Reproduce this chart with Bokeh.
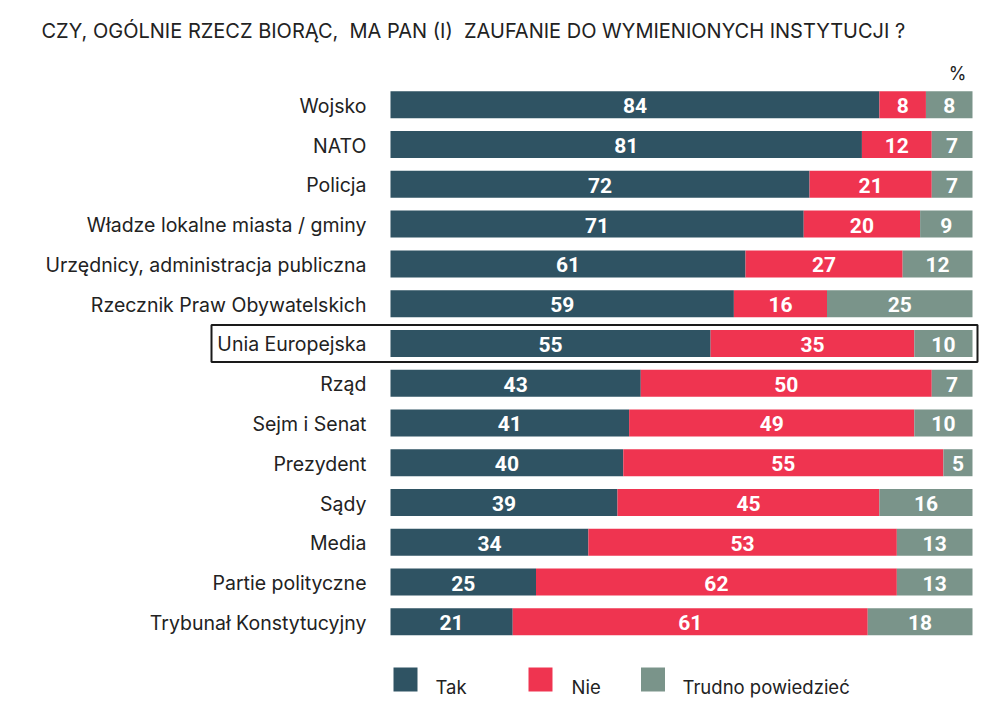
from bokeh.plotting import figure
from bokeh.models import Range1d, ColumnDataSource
from bokeh.core.properties import value
from bokeh.embed import file_html
from bokeh.resources import INLINE

# ---------------- data ----------------
categories = [
    "Wojsko", "NATO", "Policja", "Władze lokalne miasta / gminy",
    "Urzędnicy, administracja publiczna", "Rzecznik Praw Obywatelskich",
    "Unia Europejska", "Rząd", "Sejm i Senat", "Prezydent", "Sądy",
    "Media", "Partie polityczne", "Trybunał Konstytucyjny",
]
tak = [84, 81, 72, 71, 61, 59, 55, 43, 41, 40, 39, 34, 25, 21]
nie = [8, 12, 21, 20, 27, 16, 35, 50, 49, 55, 45, 53, 62, 61]
trudno = [8, 7, 7, 9, 12, 25, 10, 7, 10, 5, 16, 13, 13, 18]
series_names = ["Tak", "Nie", "Trudno powiedzieć"]
highlight = "Unia Europejska"
title_text = "CZY, OGÓLNIE RZECZ BIORĄC,\u00a0 MA PAN (I)\u00a0 ZAUFANIE DO WYMIENIONYCH INSTYTUCJI ?"
unit_text = "%"

# ---------------- style ----------------
colors = ["#2f5363", "#ef3450", "#7a948a"]
W, H = 984, 709
LABEL_FONT = "Inter"
NUM_FONT = "Roboto"

# screen-pixel -> data helpers for layout
X0_PAGE, X100_PAGE = 390.0, 972.0
Y0_PAGE, ROW_STEP = 104.3, 39.77
sx = (X100_PAGE - X0_PAGE) / 100.0


def px_x(page_x):
    return (page_x - X0_PAGE) / sx


def px_y(page_y):
    return (page_y - Y0_PAGE) / ROW_STEP


p = figure(
    width=W, height=H, output_backend="svg", toolbar_location=None,
    x_range=Range1d(px_x(0), px_x(W)),
    y_range=Range1d(px_y(H), px_y(0)),
    min_border=0, min_border_left=0, min_border_right=0,
    min_border_top=0, min_border_bottom=0,
)
p.axis.visible = False
p.grid.visible = False
p.outline_line_color = None
p.background_fill_color = "white"
p.border_fill_color = "white"

rows = list(range(len(categories)))
series = [tak, nie, trudno]
BAR_H = 27.0 / ROW_STEP

left = [0.0] * len(categories)
for vals, col in zip(series, colors):
    right = [l + v for l, v in zip(left, vals)]
    src = ColumnDataSource(dict(y=rows, left=left, right=right,
                                mid=[(l + r) / 2 for l, r in zip(left, right)],
                                lab=[str(v) for v in vals]))
    p.hbar(y="y", left="left", right="right", height=BAR_H, source=src,
           fill_color=col, line_color=None)
    p.text(x="mid", y="y", text="lab", source=src, text_color="white",
           text_font=value(NUM_FONT), text_font_style="bold",
           text_font_size="21px", text_align="center", text_baseline="middle",
           y_offset=1)
    left = right

# category labels
p.text(x=[px_x(366)] * len(categories), y=rows, text=categories,
       text_font=value(LABEL_FONT), text_font_size="19.5px", text_color="#222222",
       text_align="right", text_baseline="middle", y_offset=1)

# highlight box
hi = categories.index(highlight)
p.quad(left=[px_x(211)], right=[px_x(977)], top=[hi - 18.5 / ROW_STEP],
       bottom=[hi + 18.5 / ROW_STEP], fill_color=None, line_color="#1a1a1a",
       line_width=2)

# title
p.text(x=[px_x(41)], y=[px_y(30)], text=[title_text], text_font=value(LABEL_FONT),
       text_font_size="20px", text_color="#222222", text_align="left",
       text_baseline="alphabetic")

# unit
p.text(x=[px_x(957)], y=[px_y(73)], text=[unit_text], text_font=value(LABEL_FONT),
       text_font_size="18px", text_color="#222222", text_align="center",
       text_baseline="alphabetic")

# legend
sq_x = [405, 540, 652.5]
tx_x = [435, 571, 682]
for name, col, qx, tx in zip(series_names, colors, sq_x, tx_x):
    p.rect(x=[px_x(qx)], y=[px_y(679)], width=24, height=24,
           width_units="screen", height_units="screen",
           fill_color=col, line_color=None)
    p.text(x=[px_x(tx)], y=[px_y(686)], text=[name], text_font=value(LABEL_FONT),
           text_font_size="18.5px", text_color="#222222", text_align="left",
           text_baseline="alphabetic")

open("out.html", "w").write(file_html(p, INLINE))
